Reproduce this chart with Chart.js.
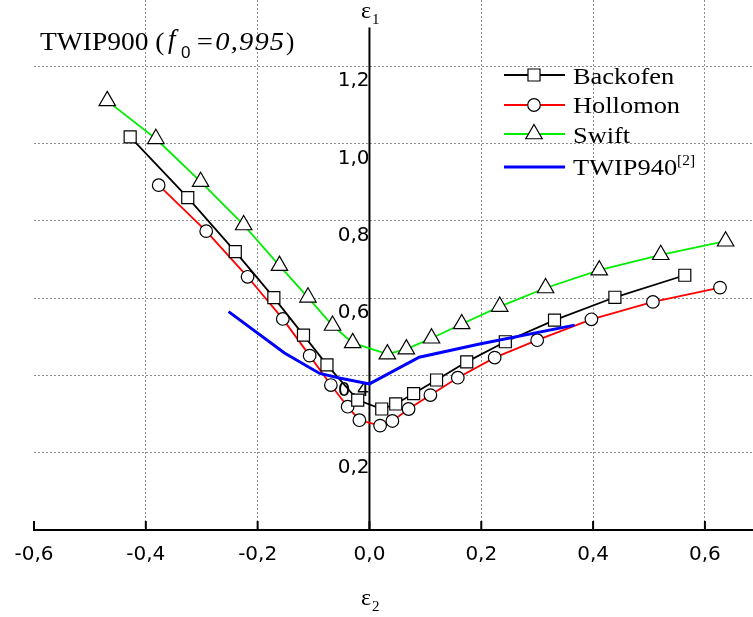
<!DOCTYPE html>
<html>
<head>
<meta charset="utf-8">
<title>TWIP900 FLD</title>
<script src="https://cdn.jsdelivr.net/npm/chart.js@4.4.1/dist/chart.umd.min.js"></script>
<style>
  html, body { margin: 0; padding: 0; background: #fff; }
  #wrap { position: relative; width: 753px; height: 617px; overflow: hidden; }
  #chart { position: absolute; left: 0; top: 0; }
  .txt {
    position: absolute;
    font-family: "Liberation Serif", "Times New Roman", serif;
    color: #000;
    line-height: 24px;
    white-space: nowrap;
    transform-origin: 0 0;
  }
  .title { top: 29px; font-size: 25px; line-height: 25px; }
  .title.sub0 { font-family: "Liberation Sans", Arial, sans-serif; font-size: 17px; line-height: 17px; top: 44px; }
  .leg { left: 573px; font-size: 24px; transform: scaleX(1.1); }
  .leg .sup { font-size: 14px; position: relative; top: -10px; }
  .eps { font-size: 24px; }
  .eps .sub { font-size: 15px; position: relative; top: 6px; margin-left: 1px; }
</style>
</head>
<body>
<div id="wrap">
  <canvas id="chart" width="753" height="617"></canvas>
  <span class="txt title" style="left:40px;transform:scaleX(1.1)">TWIP900 (</span>
  <span class="txt title" style="left:168px;font-size:27px;top:27px"><i>f</i></span>
  <span class="txt title sub0" style="left:181px">0</span>
  <span class="txt title" style="left:195px;transform:scaleX(1.14);letter-spacing:1px"><i>=0,995</i></span>
  <span class="txt title" style="left:286px">)</span>
  <div class="txt leg" style="top:64px">Backofen</div>
  <div class="txt leg" style="top:93px">Hollomon</div>
  <div class="txt leg" style="top:123px">Swift</div>
  <div class="txt leg" style="top:155px">TWIP940<span class="sup">[2]</span></div>
  <div class="txt eps" style="left:361px;top:-2px">&epsilon;<span class="sub">1</span></div>
  <div class="txt eps" style="left:361px;top:585px">&epsilon;<span class="sub">2</span></div>
</div>
<script>
  // minor strain (eps2) / major strain (eps1) pairs
  const backofenE2 = [-0.428, -0.325, -0.240, -0.171, -0.118, -0.076, -0.021, 0.022, 0.047, 0.079, 0.120, 0.174, 0.243, 0.331, 0.439, 0.564];
  const backofenE1 = [1.017, 0.860, 0.720, 0.601, 0.504, 0.427, 0.336, 0.313, 0.326, 0.353, 0.388, 0.435, 0.487, 0.543, 0.602, 0.659];

  const hollomonE2 = [-0.377, -0.292, -0.218, -0.155, -0.107, -0.069, -0.039, -0.018, 0.019, 0.041, 0.070, 0.109, 0.158, 0.224, 0.300, 0.397, 0.507, 0.627];
  const hollomonE1 = [0.892, 0.773, 0.655, 0.546, 0.451, 0.375, 0.319, 0.284, 0.270, 0.282, 0.313, 0.349, 0.394, 0.446, 0.491, 0.545, 0.590, 0.627];

  const swiftE2 = [-0.469, -0.382, -0.302, -0.225, -0.161, -0.110, -0.066, -0.030, 0.032, 0.066, 0.111, 0.165, 0.233, 0.315, 0.411, 0.521, 0.637];
  const swiftE1 = [1.110, 1.012, 0.901, 0.789, 0.684, 0.602, 0.529, 0.484, 0.455, 0.468, 0.496, 0.533, 0.578, 0.626, 0.672, 0.712, 0.747];

  const twip940E2 = [-0.252, -0.152, -0.089, -0.054, 0.000, 0.089, 0.197, 0.367];
  const twip940E1 = [0.565, 0.458, 0.405, 0.393, 0.378, 0.447, 0.481, 0.530];

  const xTickValues = [-0.6, -0.4, -0.2, 0.0, 0.2, 0.4, 0.6];
  const yTickValues = [0.2, 0.4, 0.6, 0.8, 1.0, 1.2];
  const yAxisTop = 1.3;

  const legendRows = [75, 105, 134, 167];

  function pairs(xs, ys) {
    return xs.map((x, i) => ({ x, y: ys[i] }));
  }

  function commaLabel(v) {
    const n = Math.abs(v) < 1e-9 ? 0 : v;
    return n.toFixed(1).replace('.', ',');
  }

  const gridGrey = '#8e8e8e';

  const axisDecor = {
    id: 'axisDecor',
    beforeDatasetsDraw(chart) {
      const { ctx, scales: { x, y } } = chart;
      const x0 = x.getPixelForValue(0);
      const y0 = y.getPixelForValue(0);
      ctx.save();
      ctx.strokeStyle = '#000';
      ctx.lineWidth = 2;
      ctx.beginPath();
      ctx.moveTo(x0, y.getPixelForValue(yAxisTop));
      ctx.lineTo(x0, y0);
      ctx.stroke();
      xTickValues.forEach((v) => {
        const px = x.getPixelForValue(v);
        ctx.beginPath();
        ctx.moveTo(px, y0);
        ctx.lineTo(px, y0 - 9);
        ctx.stroke();
      });
      ctx.restore();
    },
    afterDraw(chart) {
      const { ctx } = chart;
      const sets = chart.data.datasets;
      ctx.save();
      sets.forEach((ds, i) => {
        const rowY = legendRows[i];
        ctx.strokeStyle = ds.borderColor;
        ctx.lineWidth = ds.borderWidth;
        ctx.beginPath();
        ctx.moveTo(504, rowY);
        ctx.lineTo(565, rowY);
        ctx.stroke();
        if (ds.pointRadius > 0) {
          ctx.fillStyle = ds.pointBackgroundColor;
          ctx.strokeStyle = ds.pointBorderColor;
          ctx.lineWidth = ds.pointBorderWidth;
          Chart.helpers.drawPoint(ctx, {
            pointStyle: ds.pointStyle,
            radius: ds.pointRadius,
            borderWidth: ds.pointBorderWidth,
            rotation: 0
          }, 534, rowY);
        }
      });
      ctx.restore();
    }
  };

  const marker = { pointBackgroundColor: '#fff', pointBorderColor: '#000', pointBorderWidth: 1.2 };

  new Chart(document.getElementById('chart'), {
    type: 'scatter',
    data: {
      datasets: [
        Object.assign({
          label: 'Backofen',
          data: pairs(backofenE2, backofenE1),
          showLine: true,
          borderColor: '#000000',
          borderWidth: 1.8,
          pointStyle: 'rect',
          pointRadius: 8.5,
          order: 2
        }, marker),
        Object.assign({
          label: 'Hollomon',
          data: pairs(hollomonE2, hollomonE1),
          showLine: true,
          borderColor: '#ff0000',
          borderWidth: 1.8,
          pointStyle: 'circle',
          pointRadius: 6.3,
          order: 3
        }, marker),
        Object.assign({
          label: 'Swift',
          data: pairs(swiftE2, swiftE1),
          showLine: true,
          borderColor: '#00ee00',
          borderWidth: 1.8,
          pointStyle: 'triangle',
          pointRadius: 9.5,
          order: 1
        }, marker),
        {
          label: 'TWIP940',
          data: pairs(twip940E2, twip940E1),
          showLine: true,
          borderColor: '#0000ff',
          borderWidth: 3,
          pointRadius: 0,
          order: 0
        }
      ]
    },
    options: {
      responsive: false,
      animation: false,
      layout: { autoPadding: false, padding: { left: 34, right: 0, top: 0, bottom: 0 } },
      plugins: {
        legend: { display: false },
        tooltip: { enabled: false },
        title: { display: false }
      },
      scales: {
        x: {
          type: 'linear',
          position: 'bottom',
          min: -0.6,
          max: 0.686,
          afterBuildTicks(scale) {
            scale.ticks = xTickValues.map((value) => ({ value }));
          },
          afterFit(scale) {
            scale.height = 87;
            scale.paddingLeft = 0;
            scale.paddingRight = 0;
          },
          ticks: {
            includeBounds: false,
            padding: 13,
            color: '#000',
            font: { family: '"DejaVu Sans", sans-serif', size: 20 },
            callback: (v) => commaLabel(v)
          },
          grid: {
            drawTicks: false,
            lineWidth: 1,
            color: (c) => {
              const v = c.tick ? c.tick.value : null;
              if (v === null || v < -0.59 || Math.abs(v) < 1e-9) return 'rgba(0,0,0,0)';
              return gridGrey;
            }
          },
          border: { display: true, color: '#000', width: 2, dash: [2, 2] }
        },
        y: {
          type: 'linear',
          position: { x: 0 },
          min: 0,
          max: 1.371,
          afterBuildTicks(scale) {
            scale.ticks = [0].concat(yTickValues).map((value) => ({ value }));
          },
          afterFit(scale) {
            scale.paddingTop = 0;
            scale.paddingBottom = 0;
          },
          ticks: {
            includeBounds: false,
            padding: 4,
            labelOffset: 15,
            color: '#000',
            font: { family: '"DejaVu Sans", sans-serif', size: 20 },
            callback: (v) => (Math.abs(v) < 1e-9 ? '' : commaLabel(v))
          },
          grid: {
            drawTicks: false,
            lineWidth: 1,
            color: (c) => (c.tick && Math.abs(c.tick.value) < 1e-9 ? 'rgba(0,0,0,0)' : gridGrey)
          },
          border: { display: false, dash: [2, 2] }
        }
      }
    },
    plugins: [axisDecor]
  });
</script>
</body>
</html>
